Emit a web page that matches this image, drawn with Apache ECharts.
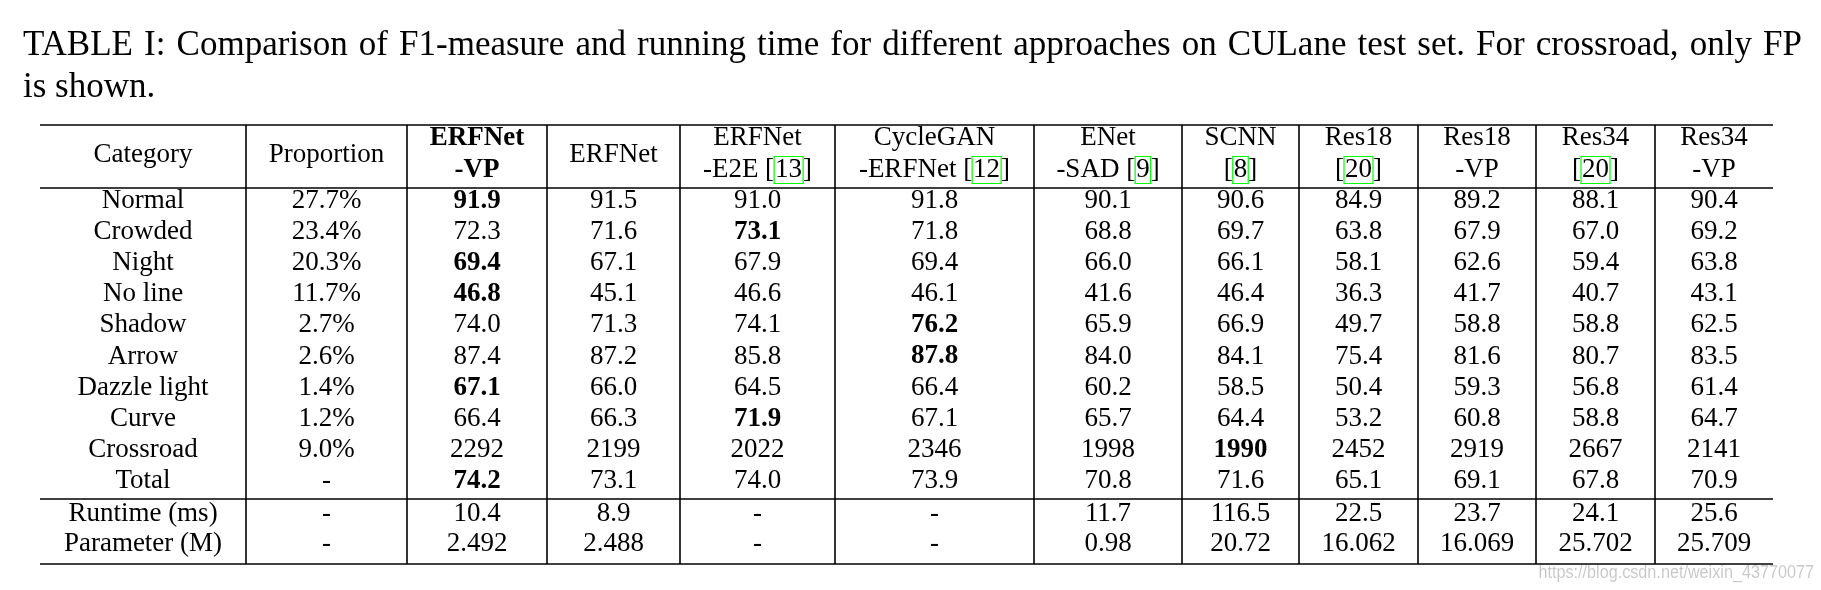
<!DOCTYPE html>
<html>
<head>
<meta charset="utf-8">
<script src="https://cdn.jsdelivr.net/npm/echarts@6/dist/echarts.min.js"></script>
<style>
  html, body { margin: 0; padding: 0; background: #fff; }
  #chart { width: 1821px; height: 590px; }
</style>
</head>
<body>
<div id="chart"></div>
<script>
// table content
const titleLine1 = "TABLE I: Comparison of F1-measure and running time for different approaches on CULane test set. For crossroad, only FP";
const titleLine2 = "is shown.";
const categories = ["Normal", "Crowded", "Night", "No line", "Shadow", "Arrow", "Dazzle light", "Curve", "Crossroad", "Total"];
const proportion = ["27.7%", "23.4%", "20.3%", "11.7%", "2.7%", "2.6%", "1.4%", "1.2%", "9.0%", "-"];
// header lines of each method, {c|..} marks a citation link
const methodHeaders = [
  ["ERFNet", "-VP"],
  ["ERFNet"],
  ["ERFNet", "-E2E [{c|13}]"],
  ["CycleGAN", "-ERFNet [{c|12}]"],
  ["ENet", "-SAD [{c|9}]"],
  ["SCNN", "[{c|8}]"],
  ["Res18", "[{c|20}]"],
  ["Res18", "-VP"],
  ["Res34", "[{c|20}]"],
  ["Res34", "-VP"]
];
const erfnetVP  = ["91.9", "72.3", "69.4", "46.8", "74.0", "87.4", "67.1", "66.4", "2292", "74.2"];
const erfnet    = ["91.5", "71.6", "67.1", "45.1", "71.3", "87.2", "66.0", "66.3", "2199", "73.1"];
const erfnetE2E = ["91.0", "73.1", "67.9", "46.6", "74.1", "85.8", "64.5", "71.9", "2022", "74.0"];
const cycleGan  = ["91.8", "71.8", "69.4", "46.1", "76.2", "87.8", "66.4", "67.1", "2346", "73.9"];
const enetSAD   = ["90.1", "68.8", "66.0", "41.6", "65.9", "84.0", "60.2", "65.7", "1998", "70.8"];
const scnn      = ["90.6", "69.7", "66.1", "46.4", "66.9", "84.1", "58.5", "64.4", "1990", "71.6"];
const res18     = ["84.9", "63.8", "58.1", "36.3", "49.7", "75.4", "50.4", "53.2", "2452", "65.1"];
const res18VP   = ["89.2", "67.9", "62.6", "41.7", "58.8", "81.6", "59.3", "60.8", "2919", "69.1"];
const res34     = ["88.1", "67.0", "59.4", "40.7", "58.8", "80.7", "56.8", "58.8", "2667", "67.8"];
const res34VP   = ["90.4", "69.2", "63.8", "43.1", "62.5", "83.5", "61.4", "64.7", "2141", "70.9"];
// best method per category (index into methods), printed bold
const bestMethod = [0, 2, 0, 0, 3, 3, 0, 2, 5, 0];
const runtimeRow = ["Runtime (ms)", "-", "10.4", "8.9", "-", "-", "11.7", "116.5", "22.5", "23.7", "24.1", "25.6"];
const paramRow   = ["Parameter (M)", "-", "2.492", "2.488", "-", "-", "0.98", "20.72", "16.062", "16.069", "25.702", "25.709"];

const methods = [erfnetVP, erfnet, erfnetE2E, cycleGan, enetSAD, scnn, res18, res18VP, res34, res34VP];

// layout (table units = px from table's top-left)
const colEdges = [0, 206, 367, 507, 640, 795, 994, 1142, 1259, 1378, 1496, 1615, 1733];
const tableH = 439;
const headRule = 63, midRule = 374;
const headSingle = 30, headTop = 13, headBottom = 45;
const rowStart = 76, rowStep = 31.1;
const runtimeY = 389, paramY = 419;

const colMid = i => (colEdges[i] + colEdges[i + 1]) / 2;

// cells: [x, y, text, bold]
const cells = [];
cells.push([colMid(0), headSingle, "Category", 0]);
cells.push([colMid(1), headSingle, "Proportion", 0]);
methodHeaders.forEach((h, m) => {
  const bold = m === 0 ? 1 : 0;
  if (h.length === 1) cells.push([colMid(m + 2), headSingle, h[0], bold]);
  else {
    cells.push([colMid(m + 2), headTop, h[0], bold]);
    cells.push([colMid(m + 2), headBottom, h[1], bold]);
  }
});
categories.forEach((c, r) => {
  const y = rowStart + r * rowStep;
  cells.push([colMid(0), y, c, 0]);
  cells.push([colMid(1), y, proportion[r], 0]);
  methods.forEach((vals, m) => {
    cells.push([colMid(m + 2), y, vals[r], bestMethod[r] === m ? 1 : 0]);
  });
});
runtimeRow.forEach((t, i) => cells.push([colMid(i), runtimeY, t, 0]));
paramRow.forEach((t, i) => cells.push([colMid(i), paramY, t, 0]));

// rules: [x1, y1, x2, y2]
const rules = [
  [0, 0, colEdges[12], 0],
  [0, headRule, colEdges[12], headRule],
  [0, midRule, colEdges[12], midRule],
  [0, tableH, colEdges[12], tableH]
];
for (let i = 1; i < colEdges.length - 1; i++) rules.push([colEdges[i], 0, colEdges[i], tableH]);

const FONT = "Liberation Serif";
const titleFont = "35px 'Liberation Serif'";

// justified caption: first line stretched between left and right edges
const titleLeft = 23, titleRight = 1802;
const ctx = document.createElement("canvas").getContext("2d");
ctx.font = titleFont;
const words = titleLine1.split(" ");
const widths = words.map(w => ctx.measureText(w).width);
const gap = (titleRight - titleLeft - widths.reduce((a, b) => a + b, 0)) / (words.length - 1);
const titleGraphics = [];
let tx = titleLeft;
words.forEach((w, i) => {
  titleGraphics.push({ type: "text", x: tx, y: 46, style: { text: w, font: titleFont, fill: "#000", verticalAlign: "middle" } });
  tx += widths[i] + gap;
});
titleGraphics.push({ type: "text", x: titleLeft, y: 88, style: { text: titleLine2, font: titleFont, fill: "#000", verticalAlign: "middle" } });

const chart = echarts.init(document.getElementById("chart"));
chart.setOption({
  animation: false,
  grid: { left: 40, top: 125, width: 1733, height: tableH },
  xAxis: { type: "value", min: 0, max: colEdges[12], show: false },
  yAxis: { type: "value", min: 0, max: tableH, inverse: true, show: false },
  graphic: titleGraphics.concat([{
    type: "text",
    x: 1814,
    y: 573,
    scaleX: 0.9,
    style: { text: "https://blog.csdn.net/weixin_43770077", font: "18px 'Liberation Sans'", fill: "rgba(0,0,0,0.22)", align: "right", verticalAlign: "middle" }
  }]),
  series: [
    {
      type: "custom",
      data: rules,
      silent: true,
      renderItem: (params, api) => {
        const p1 = api.coord([api.value(0), api.value(1)]);
        const p2 = api.coord([api.value(2), api.value(3)]);
        return {
          type: "line",
          shape: { x1: p1[0], y1: p1[1], x2: p2[0], y2: p2[1] },
          style: { stroke: "#000", lineWidth: 1.6 }
        };
      }
    },
    {
      type: "custom",
      data: cells,
      silent: true,
      renderItem: (params, api) => {
        const d = cells[params.dataIndex];
        const p = api.coord([d[0], d[1]]);
        const weight = d[3] ? "bold" : "normal";
        return {
          type: "text",
          x: p[0],
          y: p[1],
          style: {
            text: d[2],
            fontFamily: FONT,
            fontSize: 27,
            fontWeight: weight,
            fill: "#000",
            align: "center",
            verticalAlign: "middle",
            rich: {
              c: {
                fontFamily: FONT, fontSize: 27, fill: "#000",
                borderColor: "#00ff00", borderWidth: 1.2, padding: [0, 1], lineHeight: 25
              }
            }
          }
        };
      }
    }
  ]
});
</script>
</body>
</html>
